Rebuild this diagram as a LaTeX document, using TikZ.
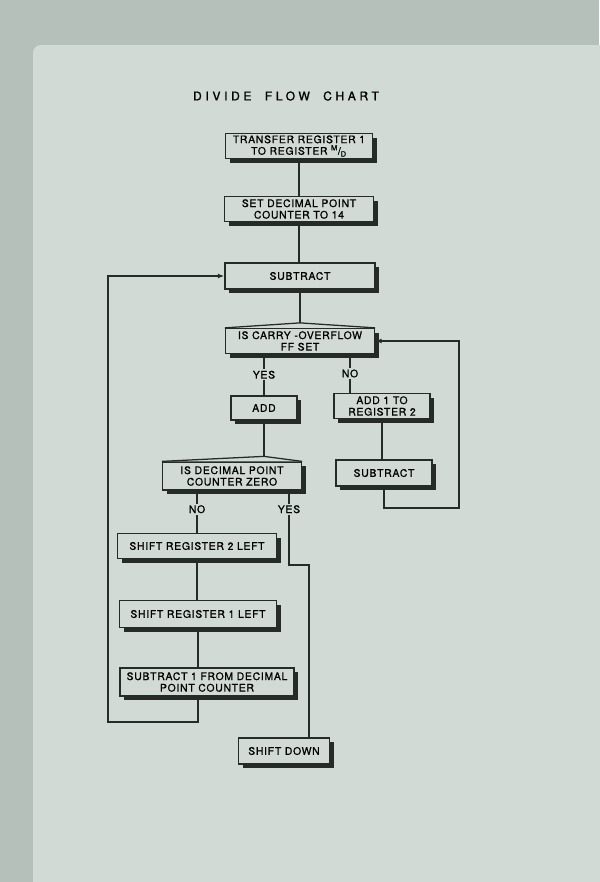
\documentclass[tikz,border=0pt]{standalone}
\usepackage{fontspec}
\usetikzlibrary{calc,shadows,arrows.meta}

\newfontfamily\chartfont[LetterSpace=7,FakeBold=0.9]{TeX Gyre Heros}
\newfontfamily\titlefont[LetterSpace=30,FakeBold=1.2]{TeX Gyre Heros}

\definecolor{slide}{HTML}{D2DAD5}
\definecolor{frame}{HTML}{B5C0BA}
\definecolor{ink}{HTML}{262B28}

\tikzset{
  block/.style={draw=ink, line width=0.9pt, fill=slide, inner sep=0pt, align=center,
    font=\chartfont\fontsize{7.4}{8.2}\selectfont,
    drop shadow={shadow xshift=1mm, shadow yshift=-1mm, fill=ink, opacity=1}},
  bsize/.style n args={2}{minimum width=#1*0.025cm, minimum height=#2*0.025cm},
  lbl/.style={fill=slide, inner sep=1pt, font=\chartfont\fontsize{7.4}{8.2}\selectfont},
  link/.style={draw=ink, line width=0.9pt},
  arr/.style={link, -{Latex[length=1.6mm,width=1.2mm]}},
}

\begin{document}
\begin{tikzpicture}[x=0.025cm, y=-0.025cm]
\useasboundingbox (0,0) rectangle (599,882);
% slide and its frame
\fill[frame] (0,0) rectangle (599,882);
\fill[slide, rounded corners=2mm] (33,900) -- (33,45) -- (620,45) -- (620,900) -- cycle;

\node[font=\titlefont\fontsize{8.6}{10}\selectfont] (title) at (286,96)
  {DIVIDE\hspace{1.1em}FLOW\hspace{1.1em}CHART};

% main column
\node[block, bsize={147}{25}] (xfer)  at (299,146) {TRANSFER REGISTER 1\\TO REGISTER \textsuperscript{M}/\textsubscript{D}};
\node[block, bsize={149}{25}] (setdp) at (299,209) {SET DECIMAL POINT\\COUNTER TO 14};
\node[block, bsize={150}{26}] (sub)   at (300,276) {SUBTRACT};
\node[block, bsize={149}{25}] (carry) at (300,341) {IS CARRY -OVERFLOW\\FF SET};
\node[block, bsize={66}{24}]  (add)   at (264,408) {ADD};
\node[block, bsize={96}{25}]  (addone) at (382,406) {ADD 1 TO\\REGISTER 2};
\node[block, bsize={139}{28}] (dpzero) at (232,476) {IS DECIMAL POINT\\COUNTER ZERO};
\node[block, bsize={96}{26}]  (subr)  at (384,473) {SUBTRACT};
\node[block, bsize={159}{25}] (shtwo) at (197,546) {SHIFT REGISTER 2 LEFT};
\node[block, bsize={157}{27}] (shone) at (198,614) {SHIFT REGISTER 1 LEFT};
\node[block, bsize={174}{28}] (subdp) at (207,682) {SUBTRACT 1 FROM DECIMAL\\POINT COUNTER};
\node[block, bsize={91}{26}]  (shdown) at (284,751) {SHIFT DOWN};

% roofs of the two tests
\draw[link, fill=slide] (carry.north west) -- ($(carry.north)+(0,-5)$) -- (carry.north east);
\draw[link, fill=slide] (dpzero.north west) -- ($(dpzero.north -| add.south)+(0,-5)$) -- (dpzero.north east);

\coordinate (nox)   at (350,0);
\coordinate (rloop) at (459,508);
\coordinate (ybend) at (309,565);
\coordinate (lloop) at (108,722);
\coordinate (ys)    at ($(dpzero.south)+(57,0)$);

\draw[link] (xfer.south) -- (setdp.north);
\draw[link] (setdp.south) -- (setdp.south |- sub.north);
\draw[link] (sub.south) -- ($(carry.north)+(0,-5)$);
\draw[link] (carry.south -| add.north) -- node[lbl]{YES} (add.north);
\draw[link] (carry.south -| nox) -- node[lbl]{NO} (nox |- addone.north);
\draw[link] (add.south) -- ($(dpzero.north -| add.south)+(0,-5)$);
\draw[link] (addone.south) -- (addone.south |- subr.north);
\draw[arr] (subr.south) |- (rloop) |- (carry.east);
\draw[link] (dpzero.south -| shtwo.north) -- node[lbl, pos=0.44]{NO} (shtwo.north);
\draw[link] (ys) -- node[lbl, pos=0.25]{YES} (ys |- ybend) -- (ybend) -- (ybend |- shdown.north);
\draw[link] (shtwo.south) -- (shtwo.south |- shone.north);
\draw[link] (shone.south) -- (shone.south |- subdp.north);
\draw[arr] (shone.south |- subdp.south) |- (lloop) |- (sub.west);
\end{tikzpicture}
\end{document}
